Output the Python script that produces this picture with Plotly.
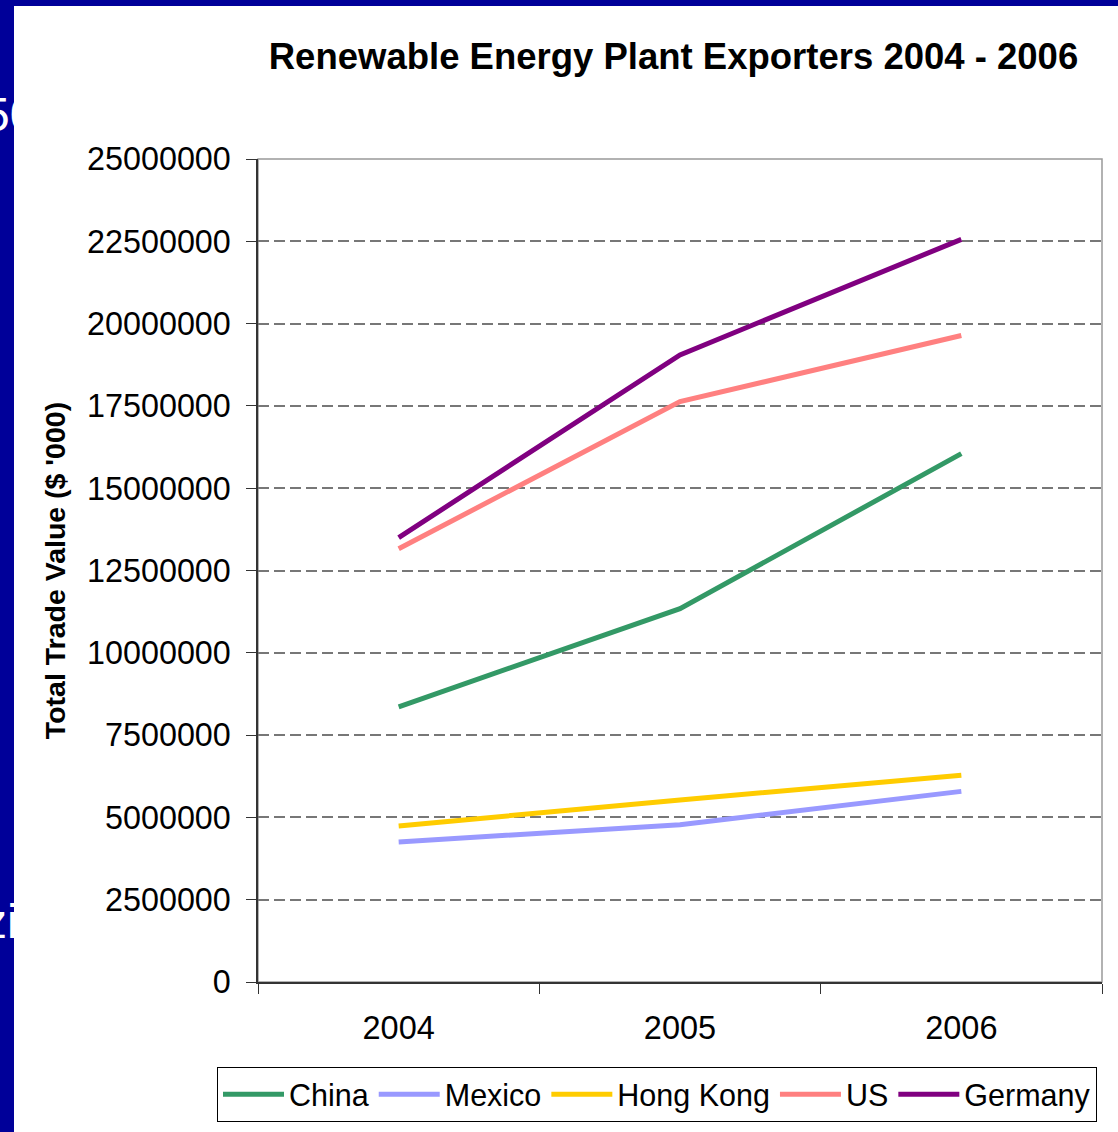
import plotly.graph_objects as go

years = ["2004", "2005", "2006"]
china = [8360000, 11340000, 16050000]
mexico = [4255000, 4780000, 5790000]
hong_kong = [4740000, 5530000, 6280000]
us = [13160000, 17630000, 19640000]
germany = [13500000, 19050000, 22560000]

series_names = ["China", "Mexico", "Hong Kong", "US", "Germany"]
series_values = [china, mexico, hong_kong, us, germany]
series_colors = ["#339966", "#9999FF", "#FFCC00", "#FF8080", "#800080"]

y_ticks = list(range(0, 25000001, 2500000))

W, H = 1118, 1132
L, R, T, B = 258, 16, 159, 150
pw, ph = W - L - R, H - T - B
FONT = "Liberation Sans, Arial, sans-serif"
BLUE = "#000099"

def px_x(p):
    return (p - L) / pw

def px_y(p):
    return (H - B - p) / ph

fig = go.Figure()
for name, vals, col in zip(series_names, series_values, series_colors):
    fig.add_trace(go.Scatter(x=years, y=vals, name=name, mode="lines",
                             line=dict(color=col, width=5)))

fig.update_layout(
    width=W, height=H,
    margin=dict(l=L, r=R, t=T, b=B, autoexpand=False),
    paper_bgcolor="white", plot_bgcolor="white",
    font=dict(family=FONT, color="black", size=32),
    title=dict(text="<b>Renewable Energy Plant Exporters 2004 - 2006</b>",
               x=673.5 / W, xref="container", xanchor="center",
               y=1 - 56 / H, yref="container", yanchor="middle",
               font=dict(size=36.5, family=FONT, color="black")),
    xaxis=dict(type="category", range=[-0.5, 2.5], tickson="boundaries",
               ticks="outside", ticklen=10, tickcolor="#333333", tickwidth=1,
               showline=True, linecolor="#333333", linewidth=1.5,
               showgrid=False, zeroline=False,
               tickfont=dict(size=32.5, family=FONT), ticklabelstandoff=16),
    yaxis=dict(range=[0, 25000000], tickvals=y_ticks, tickformat="d",
               ticks="outside", ticklen=10, tickcolor="#333333", tickwidth=1,
               showline=True, linecolor="#333333", linewidth=1.5,
               showgrid=True, gridcolor="#777777", gridwidth=1.5, griddash="11px,5px",
               zeroline=False,
               tickfont=dict(size=32.3, family=FONT), ticklabelstandoff=9,
               title=dict(text="<b>Total Trade Value ($ '000)</b>",
                          font=dict(size=28.5, family=FONT), standoff=13)),
    legend=dict(orientation="h", xref="paper", yref="paper",
                x=px_x(217), xanchor="left", y=px_y(1067), yanchor="top",
                bgcolor="white", bordercolor="black", borderwidth=1,
                font=dict(size=30.5, family=FONT), itemwidth=61),
    showlegend=True,
    shapes=[
        dict(type="rect", xref="x domain", yref="y domain", x0=0, x1=1, y0=0, y1=1,
             line=dict(color="#999999", width=1.5), layer="below"),
        dict(type="rect", xref="paper", yref="paper",
             x0=px_x(0), x1=px_x(W), y0=px_y(6), y1=px_y(0),
             fillcolor=BLUE, line=dict(width=0), layer="above"),
        dict(type="rect", xref="paper", yref="paper",
             x0=px_x(0), x1=px_x(14), y0=px_y(H), y1=px_y(0),
             fillcolor=BLUE, line=dict(width=0), layer="above"),
    ],
    annotations=[
        dict(text="50", xref="paper", yref="paper", x=px_x(-19.5), y=px_y(115),
             xanchor="left", yanchor="middle", showarrow=False,
             font=dict(size=48, color="white", family=FONT)),
        dict(text="zi", xref="paper", yref="paper", x=px_x(-19), y=px_y(921),
             xanchor="left", yanchor="middle", showarrow=False,
             font=dict(size=48, color="white", family=FONT)),
    ],
)

fig.write_html("out.html", config={"displayModeBar": False},
               post_script="document.body.style.margin='0';")
